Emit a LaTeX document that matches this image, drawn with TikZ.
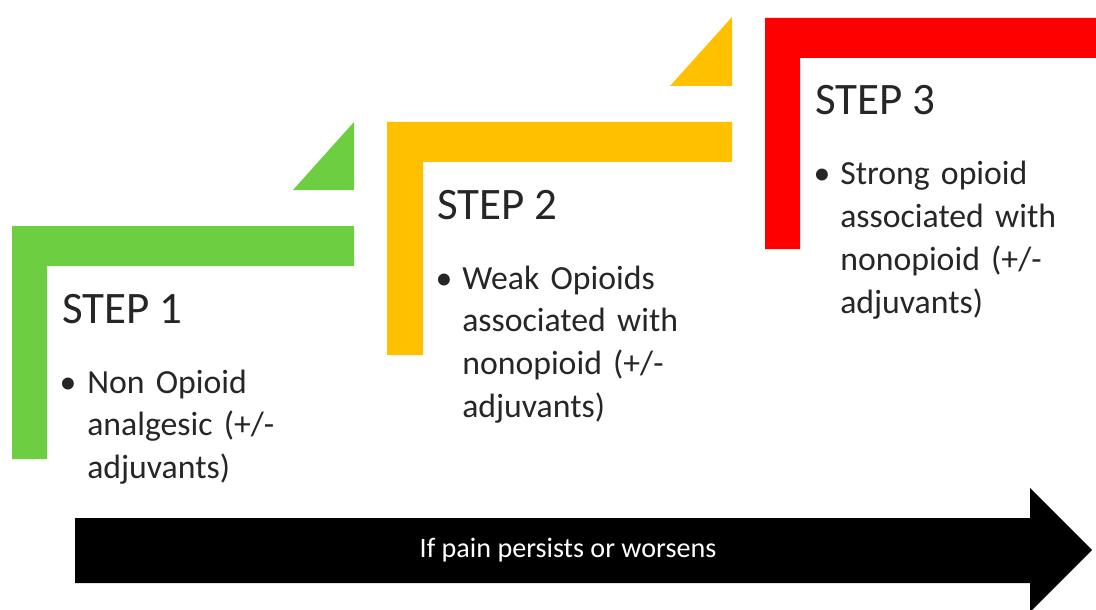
\documentclass[tikz,border=0pt]{standalone}
\usepackage{fontspec}
\setmainfont{Carlito}
\definecolor{stepgreen}{RGB}{108,206,64}
\definecolor{stepyellow}{RGB}{255,192,0}
\definecolor{stepred}{RGB}{255,0,0}
\definecolor{steptext}{RGB}{38,38,38}
\tikzset{
    mytitle/.style = {anchor=base west, inner sep=0pt, font=\fontsize{32}{38}\selectfont, text=steptext},
    mybullet/.style = {anchor=base, inner sep=0pt, font=\fontsize{24}{30.5}\selectfont, text=steptext},
    mytext/.style = {anchor=base west, inner sep=0pt, align=left, text width=7cm, font=\fontsize{24}{30.5}\selectfont, text=steptext},
    myarrow/.style = {fill=black},
    mylabel/.style = {inner sep=0pt, font=\fontsize{20}{24}\selectfont, text=white}
}
\begin{document}
\begin{tikzpicture}[x=0.025cm, y=-0.025cm]
\path[use as bounding box] (0,0) rectangle (1096,610);
% step 1
\fill[stepgreen] (12,226) -- (354,226) -- (354,266) -- (47,266) -- (47,459) -- (12,459) -- cycle;
\fill[stepgreen] (354,122) -- (354,190) -- (293,190) -- cycle;
\node[mytitle] at (62,323) (t1) {STEP 1};
\node[mybullet] at (68,393) (b1) {\textbullet};
\node[mytext] at (87,393) (d1) {Non Opioid\\analgesic (+/-\\adjuvants)};
% step 2
\fill[stepyellow] (387,122) -- (732,122) -- (732,162) -- (423,162) -- (423,355) -- (387,355) -- cycle;
\fill[stepyellow] (732,17) -- (732,86) -- (670,86) -- cycle;
\node[mytitle] at (437,219) (t2) {STEP 2};
\node[mybullet] at (444,289) (b2) {\textbullet};
\node[mytext] at (462,289) (d2) {Weak Opioids\\associated with\\nonopioid (+/-\\adjuvants)};
% step 3
\fill[stepred] (765,18) -- (1096,18) -- (1096,58) -- (800,58) -- (800,249) -- (765,249) -- cycle;
\node[mytitle] at (815,115) (t3) {STEP 3};
\node[mybullet] at (822,185) (b3) {\textbullet};
\node[mytext] at (840,185) (d3) {Strong opioid\\associated with\\nonopioid (+/-\\adjuvants)};
%
\fill[myarrow] (75,518) -- (1030,518) -- (1030,488) -- (1092,550) -- (1030,612) -- (1030,583) -- (75,583) -- cycle;
\node[mylabel] at (568,550) (a) {If pain persists or worsens};
\end{tikzpicture}
\end{document}
